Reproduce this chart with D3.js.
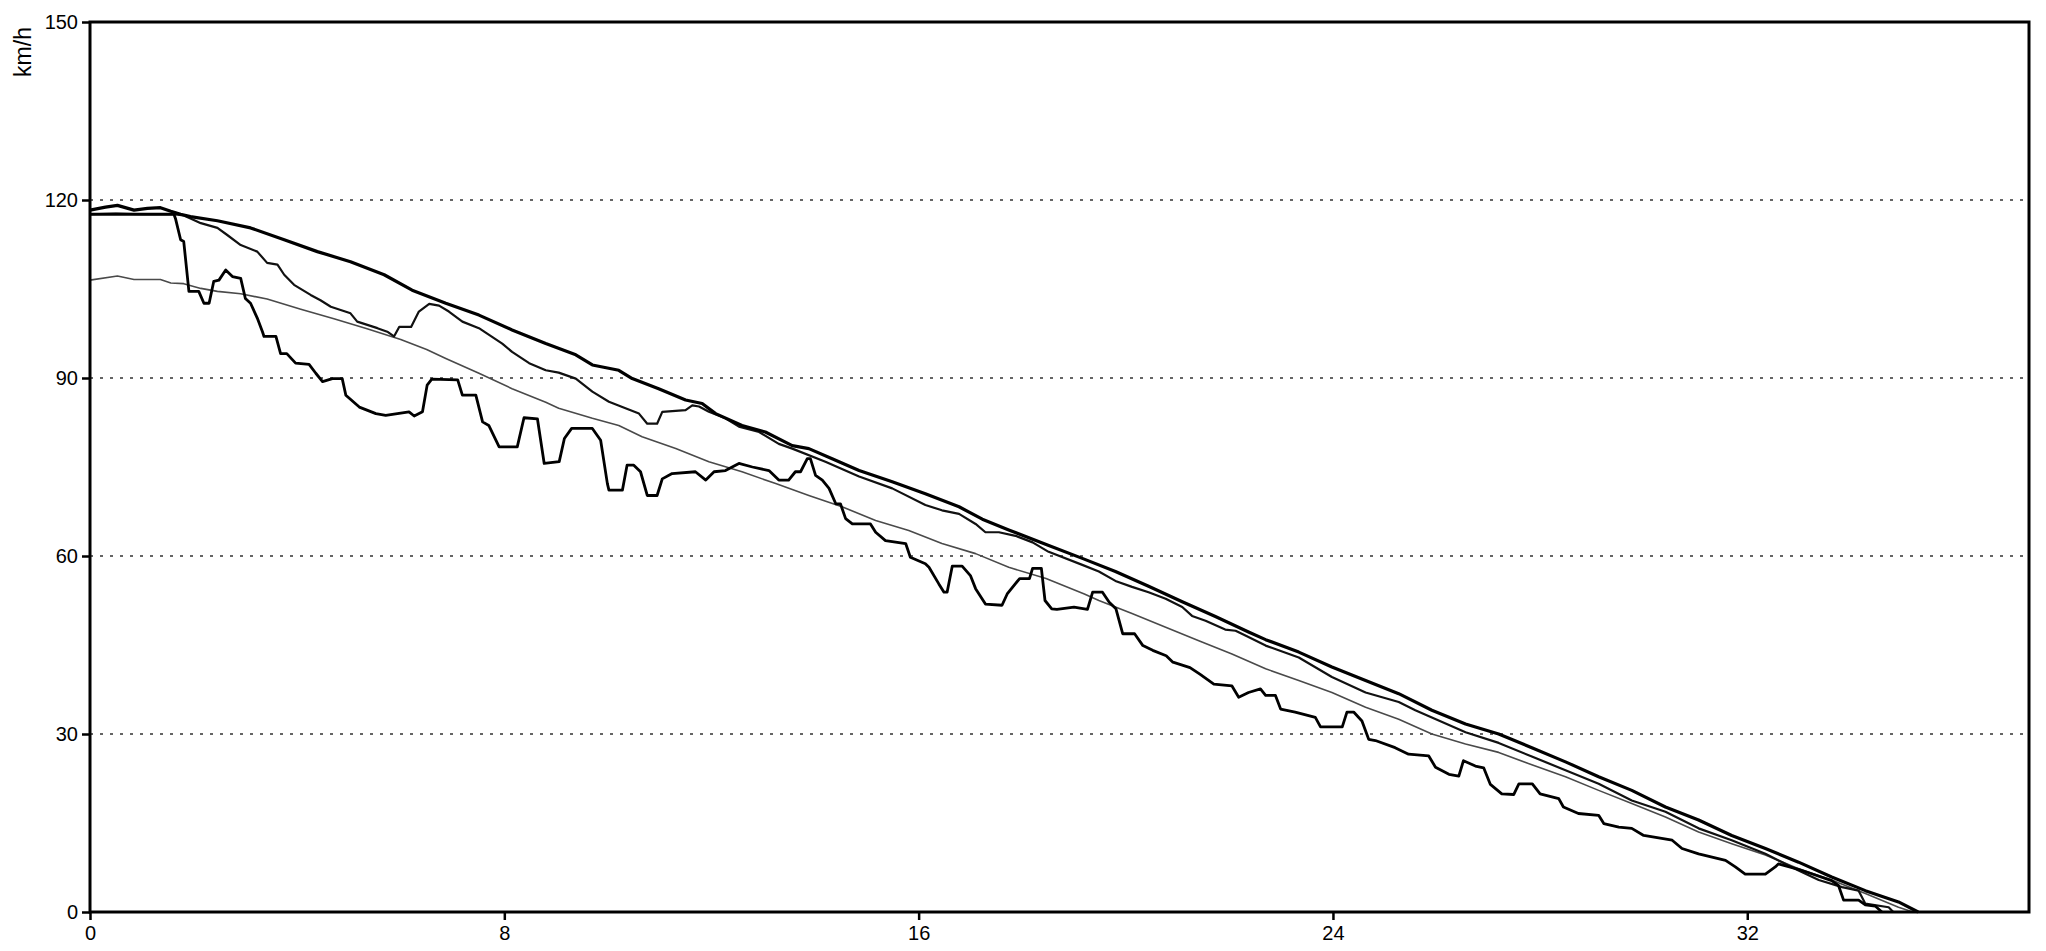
<!DOCTYPE html>
<html>
<head>
<meta charset="utf-8">
<script src="https://cdn.jsdelivr.net/npm/d3@7/dist/d3.min.js"></script>
<style>
  html, body { margin: 0; padding: 0; background: #fff; }
  svg { display: block; }
  text { font-family: "Liberation Sans", Arial, sans-serif; fill: #000; }
</style>
</head>
<body>
<svg id="chart" width="2046" height="951"></svg>
<script>
// Axis ticks and limits
const xTicks = [0, 8, 16, 24, 32];
const yTicks = [0, 30, 60, 90, 120, 150];
const gridValues = [30, 60, 90, 120];
const xMax = 37.44;
const yMax = 150;
const yUnit = "km/h";

// Speed traces, [distance, km/h]
const traceUpper = [
  [0,118.3],[0.3,118.8],[0.53,119.1],[0.85,118.3],[1.11,118.6],[1.36,118.7],[1.56,118.1],[1.75,117.6],
  [1.94,117.2],[2.46,116.5],[3.1,115.3],[3.75,113.3],[4.39,111.3],[5.03,109.6],[5.68,107.4],[6.22,104.8],
  [6.87,102.6],[7.51,100.6],[8.15,98.1],[8.8,95.8],[9.38,93.9],[9.7,92.2],[10.21,91.3],[10.47,89.9],
  [10.98,88.2],[11.5,86.3],[11.82,85.7],[12.08,84.0],[12.59,82.0],[13.04,80.9],[13.56,78.6],[13.88,78.1],
  [14.33,76.4],[14.85,74.4],[15.49,72.5],[16.13,70.5],[16.78,68.3],[17.23,66.2],[17.74,64.4],[18.5,61.8],
  [19.16,59.6],[19.8,57.4],[20.44,54.9],[21.09,52.3],[21.73,49.8],[22.37,47.2],[22.7,45.9],[23.34,43.8],
  [23.98,41.3],[24.63,39.0],[25.27,36.8],[25.91,34.0],[26.56,31.7],[27.2,30.0],[27.84,27.7],[28.49,25.3],
  [29.13,22.8],[29.77,20.5],[30.42,17.7],[31.06,15.5],[31.7,12.9],[32.35,10.7],[32.99,8.4],[33.63,5.9],
  [34.28,3.6],[34.92,1.7],[35.3,0]
];

const traceSecond = [
  [0,117.6],[0.5,117.7],[1.0,117.6],[1.6,117.6],[1.81,117.4],[1.94,116.9],[2.14,116.1],[2.46,115.3],
  [2.65,114.1],[2.91,112.4],[3.23,111.3],[3.42,109.4],[3.62,109.1],[3.75,107.4],[3.94,105.7],[4.26,104.0],
  [4.45,103.1],[4.65,102.0],[5.03,100.9],[5.16,99.5],[5.55,98.4],[5.74,97.8],[5.87,97.0],[5.97,98.6],
  [6.2,98.6],[6.35,101.2],[6.55,102.5],[6.74,102.2],[6.93,101.2],[7.19,99.5],[7.51,98.4],[7.96,95.8],
  [8.15,94.4],[8.48,92.5],[8.8,91.3],[9.05,90.9],[9.38,89.9],[9.7,87.7],[10.02,86.0],[10.34,84.9],
  [10.6,84.0],[10.76,82.3],[10.95,82.3],[11.05,84.3],[11.5,84.6],[11.63,85.4],[11.76,85.2],[11.95,84.3],
  [12.27,83.2],[12.53,81.8],[12.92,80.9],[13.3,78.9],[13.56,78.1],[14.2,75.9],[14.85,73.4],[15.49,71.4],
  [16.13,68.6],[16.45,67.7],[16.78,67.1],[17.1,65.4],[17.29,64.0],[17.55,64.0],[17.87,63.4],[18.2,62.3],
  [18.51,60.7],[19.16,58.5],[19.48,57.4],[19.8,55.8],[20.12,54.8],[20.44,53.9],[20.77,52.8],[21.09,51.4],
  [21.28,49.9],[21.54,49.1],[21.92,47.6],[22.12,47.4],[22.31,46.6],[22.7,44.9],[23.34,42.9],[23.98,39.6],
  [24.63,37.0],[25.27,35.4],[25.59,34.0],[25.91,32.8],[26.56,30.3],[27.2,28.5],[27.84,26.2],[28.49,23.9],
  [29.13,21.6],[29.77,18.8],[30.42,16.9],[31.06,14.1],[31.7,12.1],[32.35,9.8],[32.99,7.0],[33.38,5.4],
  [33.83,4.2],[34.15,3.6],[34.28,1.4],[34.73,0.8],[34.82,0]
];

const traceSmooth = [
  [0,106.5],[0.53,107.2],[0.85,106.6],[1.36,106.6],[1.56,106.0],[1.81,105.9],[2.14,105.1],[2.46,104.6],
  [2.91,104.2],[3.42,103.3],[4.07,101.6],[4.71,100.0],[5.35,98.3],[6.0,96.5],[6.5,94.8],[6.87,93.3],
  [7.51,90.8],[8.15,88.2],[8.8,85.9],[9.05,84.9],[9.7,83.2],[10.21,82.0],[10.66,80.1],[11.31,78.1],
  [11.95,75.9],[12.59,74.2],[13.24,72.2],[13.88,70.2],[14.52,68.3],[15.17,66.0],[15.81,64.3],[16.45,62.1],
  [17.1,60.4],[17.74,58.1],[18.46,56.2],[19.2,53.6],[19.48,52.5],[20.12,50.3],[20.77,48.0],[21.41,45.7],
  [22.05,43.5],[22.7,41.0],[23.34,39.0],[23.98,37.0],[24.63,34.5],[25.27,32.5],[25.91,30.0],[26.56,28.3],
  [27.2,26.9],[27.84,24.8],[28.49,22.8],[29.13,20.5],[29.77,18.3],[30.42,16.0],[31.06,13.5],[31.7,11.5],
  [32.35,9.6],[32.99,7.3],[33.63,5.4],[34.28,3.1],[34.92,0.8],[35.2,0]
];

const traceStepped = [
  [0,117.6],[1.0,117.6],[1.62,117.6],[1.65,116.9],[1.75,113.3],[1.81,113.0],[1.91,104.6],[2.1,104.6],
  [2.2,102.6],[2.3,102.6],[2.39,106.3],[2.49,106.5],[2.62,108.2],[2.75,107.1],[2.91,106.8],[3.0,103.4],
  [3.1,102.6],[3.23,100.1],[3.33,97.8],[3.36,97.0],[3.59,97.0],[3.68,94.1],[3.8,94.1],[3.97,92.5],
  [4.23,92.3],[4.36,90.8],[4.49,89.4],[4.68,89.9],[4.87,89.9],[4.94,87.1],[5.2,85.1],[5.52,84.0],
  [5.71,83.7],[6.16,84.3],[6.26,83.6],[6.42,84.3],[6.51,88.8],[6.6,89.8],[7.1,89.7],[7.19,87.1],
  [7.45,87.1],[7.58,82.6],[7.7,82.0],[7.9,78.4],[8.25,78.4],[8.38,83.3],[8.64,83.1],[8.77,75.6],
  [9.06,75.9],[9.16,79.8],[9.3,81.5],[9.7,81.5],[9.86,79.5],[9.99,72.2],[10.02,71.1],[10.28,71.1],
  [10.37,75.3],[10.5,75.3],[10.63,74.2],[10.76,70.2],[10.95,70.2],[11.05,73.0],[11.24,73.9],[11.69,74.2],
  [11.89,72.8],[12.05,74.2],[12.27,74.4],[12.53,75.6],[12.79,75.0],[13.11,74.4],[13.3,72.8],[13.49,72.8],
  [13.62,74.2],[13.72,74.2],[13.85,76.4],[13.91,76.4],[14.01,73.6],[14.14,72.8],[14.27,71.4],[14.4,68.8],
  [14.49,68.8],[14.59,66.3],[14.72,65.4],[15.07,65.4],[15.17,64.0],[15.36,62.6],[15.75,62.1],[15.84,59.8],
  [16.13,58.7],[16.2,58.1],[16.39,55.3],[16.49,53.9],[16.55,53.9],[16.65,58.3],[16.84,58.3],[17.0,56.7],
  [17.1,54.5],[17.29,51.9],[17.61,51.7],[17.71,53.6],[17.95,56.2],[18.14,56.2],[18.2,57.9],[18.37,57.9],
  [18.44,52.5],[18.57,51.1],[18.67,51.0],[19.0,51.4],[19.26,51.0],[19.36,53.9],[19.55,53.9],[19.68,52.2],
  [19.81,51.1],[19.94,46.9],[20.17,46.9],[20.33,44.9],[20.52,44.1],[20.78,43.2],[20.91,42.1],[21.24,41.2],
  [21.43,40.1],[21.7,38.4],[22.05,38.1],[22.18,36.2],[22.37,37.0],[22.6,37.6],[22.7,36.5],[22.89,36.5],
  [22.99,34.2],[23.27,33.7],[23.66,32.8],[23.76,31.2],[24.18,31.2],[24.27,33.7],[24.4,33.7],[24.56,32.2],
  [24.69,29.1],[24.82,28.9],[25.2,27.7],[25.46,26.6],[25.85,26.3],[25.98,24.4],[26.24,23.2],[26.43,22.9],
  [26.52,25.5],[26.75,24.6],[26.91,24.3],[27.04,21.5],[27.26,19.9],[27.49,19.8],[27.59,21.6],[27.85,21.6],
  [28.0,19.9],[28.36,19.1],[28.45,17.7],[28.74,16.6],[29.13,16.3],[29.23,14.9],[29.52,14.3],[29.77,14.1],
  [30.0,12.9],[30.55,12.1],[30.74,10.7],[31.06,9.8],[31.58,8.7],[31.77,7.6],[31.96,6.4],[32.35,6.4],
  [32.54,7.6],[32.6,8.1],[32.99,7.2],[33.63,5.3],[33.76,4.5],[33.86,2.0],[34.15,2.0],[34.28,1.2],
  [34.47,1.0],[34.6,0]
];

const traces = [
  { data: traceSmooth,  color: "#4a4a4a", width: 1.6 },
  { data: traceSecond,  color: "#111",    width: 2.2 },
  { data: traceStepped, color: "#000",    width: 2.8 },
  { data: traceUpper,   color: "#000",    width: 3.2 }
];

const W = 2046, H = 951;
const margin = { top: 22, right: 17, bottom: 39, left: 90 };
const iw = W - margin.left - margin.right;
const ih = H - margin.top - margin.bottom;

const svg = d3.select("#chart");
const g = svg.append("g").attr("transform", `translate(${margin.left},${margin.top})`);

const x = d3.scaleLinear().domain([0, xMax]).range([0, iw]);
const y = d3.scaleLinear().domain([0, yMax]).range([ih, 0]);

// Dotted horizontal gridlines
g.append("g")
  .selectAll("line")
  .data(gridValues)
  .join("line")
  .attr("x1", 0).attr("x2", iw)
  .attr("y1", d => y(d)).attr("y2", d => y(d))
  .attr("stroke", "#333")
  .attr("stroke-width", 1.4)
  .attr("stroke-dasharray", "3,7");

// Speed traces
const line = d3.line().x(d => x(d[0])).y(d => y(d[1])).curve(d3.curveLinear);
g.append("g")
  .selectAll("path")
  .data(traces)
  .join("path")
  .attr("d", d => line(d.data))
  .attr("fill", "none")
  .attr("stroke", d => d.color)
  .attr("stroke-width", d => d.width)
  .attr("stroke-linejoin", "round");

// Axes
const yAxis = d3.axisLeft(y).tickValues(yTicks).tickSize(8).tickPadding(4).tickFormat(d3.format("d"));
const xAxis = d3.axisBottom(x).tickValues(xTicks).tickSize(8).tickPadding(6).tickFormat(d3.format("d"));

const gy = g.append("g").call(yAxis);
const gx = g.append("g").attr("transform", `translate(0,${ih})`).call(xAxis);
[gx, gy].forEach(a => {
  a.select(".domain").remove();
  a.selectAll(".tick line").attr("stroke", "#000").attr("stroke-width", 2.5);
  a.selectAll(".tick text")
    .attr("font-family", "Liberation Sans, Arial, sans-serif")
    .attr("font-size", 20)
    .attr("fill", "#000");
});

// Plot frame
g.append("rect")
  .attr("x", 0).attr("y", 0)
  .attr("width", iw).attr("height", ih)
  .attr("fill", "none")
  .attr("stroke", "#000")
  .attr("stroke-width", 3);

// Unit label
svg.append("text")
  .attr("transform", "translate(31,52) rotate(-90)")
  .attr("text-anchor", "middle")
  .attr("font-size", 23)
  .text(yUnit);
</script>
</body>
</html>
